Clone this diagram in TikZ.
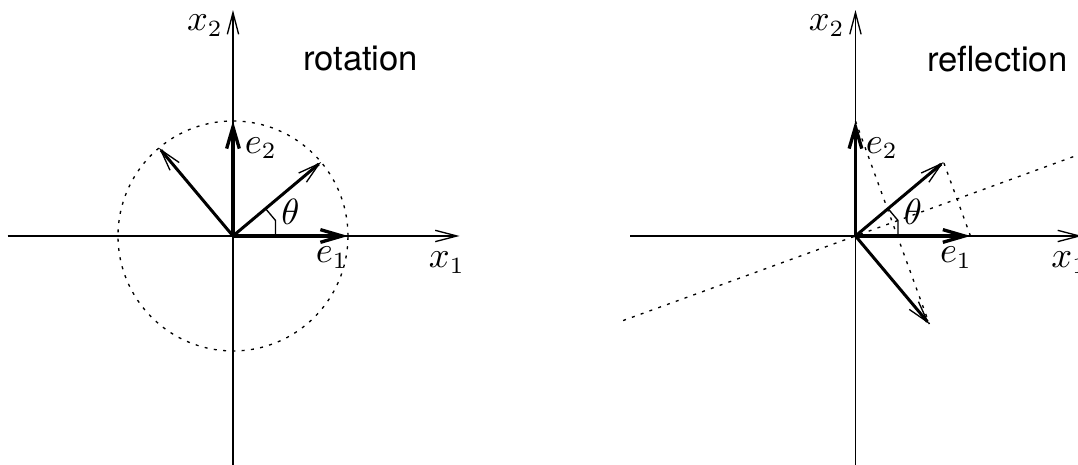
\documentclass[tikz,border=0pt]{standalone}
\usepackage{fontspec}
\setsansfont{TeX Gyre Heros}
\usepackage{tikz}
\usetikzlibrary{arrows.meta}
\tikzset{
  axis/.style={line width=0.4pt, -{Straight Barb[length=6.5pt, width=3.4pt, line width=0.4pt]}},
  basis/.style={line width=1.1pt, -{Straight Barb[length=6.5pt, width=3.8pt, line width=1pt]}},
  image/.style={line width=0.9pt, -{Straight Barb[length=6.5pt, width=3.6pt, line width=0.4pt]}},
  guide/.style={line width=0.4pt, dash pattern=on 0.9pt off 1.9pt},
  every node/.style={font=\fontsize{10.6}{12.5}\selectfont},
  title/.style={font=\fontsize{10.4}{12.5}\selectfont\sffamily}
}

\begin{document}
\begin{tikzpicture}[x=34.5pt, y=34.5pt]
  \clip (-2.026,-1.983) rectangle (7.348,2.052);
  \begin{scope}
    \coordinate (O) at (0,0);
    \coordinate (xl) at (-1.96,0);
    \coordinate (xr) at (1.97,0);
    \coordinate (yb) at (0,-2.1);
    \coordinate (yt) at (0,1.965);
    \coordinate (e1) at (1,0);
    \coordinate (e2) at (0,1);
    \coordinate (r1) at (40:1);
    \coordinate (r2) at (130:1);
    \draw[axis] (xl) -- (xr);
    \draw[axis] (yb) -- (yt);
    \draw[guide] (O) circle (1);
    \draw[image] (O) -- (r1);
    \draw[image] (O) -- (r2);
    \draw[basis] (O) -- (e1);
    \draw[basis] (O) -- (e2);
    \draw[line width=0.4pt] (0.37,0) -- (0.37,{0.37*tan(20)}) -- (40:0.37);
    \node (x1) at (1.86,-0.23) {$x_1$};
    \node (x2) at (-0.243,1.83) {$x_2$};
    \node (l1) at (0.86,-0.19) {$e_1$};
    \node (l2) at (0.243,0.765) {$e_2$};
    \node (th) at (0.5,0.21) {$\theta$};
    \node[title] (rot) at (1.11,1.54) {rotation};
  \end{scope}
  \begin{scope}[shift={(5.413,0)}]
    \coordinate (P) at (0,0);
    \coordinate (pxl) at (-1.96,0);
    \coordinate (pxr) at (1.97,0);
    \coordinate (pyb) at (0,-2.1);
    \coordinate (pyt) at (0,1.965);
    \coordinate (f1) at (1,0);
    \coordinate (f2) at (0,1);
    \coordinate (s1) at (40:1);
    \coordinate (s2) at (-50:1);
    \coordinate (ml) at (200:2.15);
    \coordinate (mr) at (20:2.4);
    \draw[axis] (pxl) -- (pxr);
    \draw[axis] (pyb) -- (pyt);
    \draw[guide] (ml) -- (mr);
    \draw[guide] (f1) -- (s1);
    \draw[guide] (f2) -- (s2);
    \draw[image] (P) -- (s1);
    \draw[image] (P) -- (s2);
    \draw[basis] (P) -- (f1);
    \draw[basis] (P) -- (f2);
    \draw[line width=0.4pt] (0.37,0) -- (0.37,{0.37*tan(20)}) -- (40:0.37);
    \node (px1) at (1.86,-0.23) {$x_1$};
    \node (px2) at (-0.25,1.83) {$x_2$};
    \node (pl1) at (0.874,-0.19) {$e_1$};
    \node (pl2) at (0.23,0.765) {$e_2$};
    \node (pth) at (0.5,0.21) {$\theta$};
    \node[title] (ref) at (1.233,1.54) {reflection};
  \end{scope}
\end{tikzpicture}
\end{document}
